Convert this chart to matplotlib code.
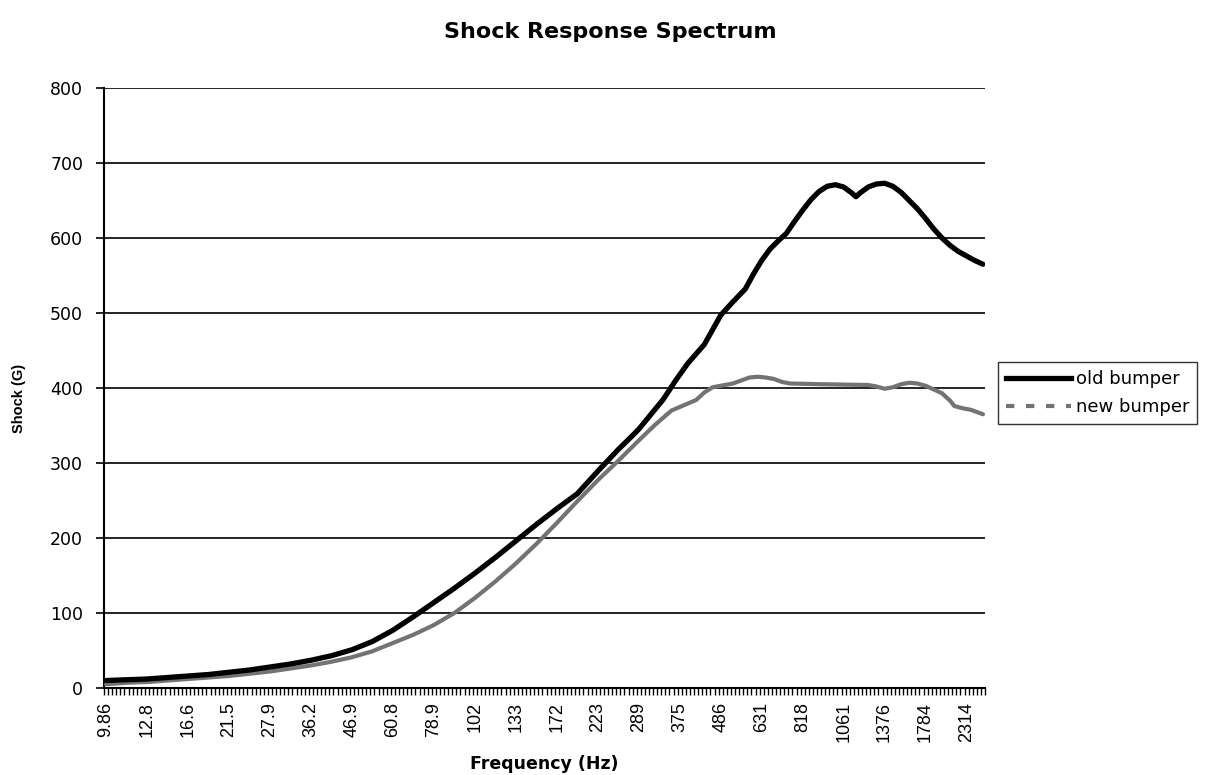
import matplotlib
matplotlib.use("Agg")
import matplotlib.pyplot as plt
from matplotlib.lines import Line2D
from matplotlib.ticker import FixedLocator, NullFormatter

plt.rcParams['font.family'] = ['Liberation Sans', 'DejaVu Sans']

# Category axis: 215 log-spaced frequency bins, labelled every 10th bin
n_categories = 215
tick_labels = ["9.86", "12.8", "16.6", "21.5", "27.9", "36.2", "46.9", "60.8",
               "78.9", "102", "133", "172", "223", "289", "375", "486", "631",
               "818", "1061", "1376", "1784", "2314"]
label_step = 10

# Old bumper: (category index, shock G)
old_idx = [0, 5, 10, 15, 20, 25, 30, 35, 40, 45, 50, 55, 60, 65, 70, 75, 80, 85,
           90, 95, 100, 105, 110, 115, 120, 125, 128, 130, 133, 136, 139, 142, 146,
           150, 153, 156, 158, 160, 162, 164, 166, 168, 170, 172, 174, 176, 178,
           180, 182, 183, 184, 186, 188, 190, 192, 194, 196, 198, 200, 202, 204,
           206, 208, 210, 212, 214]
old_bumper = [10, 11, 12, 14, 16, 18, 21, 24, 28, 32, 37, 43, 51, 62, 77, 95, 114,
              133, 153, 174, 196, 218, 239, 259, 289, 318, 334, 345, 365, 385, 410,
              433, 458, 497, 515, 532, 552, 570, 585, 596, 606, 622, 637, 651, 662,
              669, 671, 668, 660, 655, 660, 668, 672, 673, 669, 661, 650, 639, 626,
              612, 600, 590, 582, 576, 570, 565]

# New bumper: (category index, shock G)
new_idx = [0, 5, 10, 15, 20, 25, 30, 35, 40, 45, 50, 55, 60, 65, 70, 75, 80, 85,
           90, 95, 100, 105, 110, 115, 120, 125, 130, 134, 138, 141, 144, 146, 148,
           151, 153, 155, 157, 159, 161, 163, 165, 167, 175, 186, 188, 190, 192,
           194, 196, 198, 200, 202, 204, 206, 207, 209, 211, 214]
new_bumper = [5, 7, 8, 10, 12, 14, 16, 19, 22, 26, 30, 35, 41, 49, 60, 71, 84,
              100, 120, 142, 166, 192, 220, 249, 277, 303, 330, 351, 370, 377, 384,
              394, 401, 404, 406, 410, 414, 415, 414, 412, 408, 406, 405, 404, 402,
              399, 401, 405, 407, 406, 403, 398, 393, 383, 376, 373, 371, 365]

fig = plt.figure(figsize=(12.07, 7.75), dpi=100)
ax = fig.add_axes([104/1207, 1-688/775, (985-104)/1207, (688-88)/775])

ax.plot(new_idx, new_bumper, color='#737373', lw=3.0, solid_joinstyle='round',
        solid_capstyle='round', zorder=3)
ax.plot(old_idx, old_bumper, color='#000000', lw=3.8, solid_joinstyle='round',
        solid_capstyle='round', zorder=4)

ax.set_xlim(-0.5, n_categories - 0.5)
ax.set_ylim(0, 800)
ax.set_yticks(range(0, 801, 100))
ax.yaxis.grid(True, color='black', lw=1.2)
ax.set_axisbelow(True)

major = [i * label_step for i in range(len(tick_labels))]
ax.set_xticks(major)
ax.set_xticklabels(tick_labels, rotation=90, fontsize=13)
ax.tick_params(axis='x', which='major', length=0, pad=10)
ax.xaxis.set_minor_locator(FixedLocator([i - 0.5 for i in range(n_categories + 1)]))
ax.xaxis.set_minor_formatter(NullFormatter())
ax.tick_params(axis='x', which='minor', length=5, width=1.0, direction='out')
ax.tick_params(axis='y', length=6, width=1.2, pad=9)
for lab in ax.get_yticklabels():
    lab.set_fontfamily('DejaVu Sans')
    lab.set_fontsize(12.5)

for s in ['top', 'right']:
    ax.spines[s].set_visible(False)
for s in ['left', 'bottom']:
    ax.spines[s].set_linewidth(1.5)

fig.text(610/1207, 1-32/775, "Shock Response Spectrum", ha='center', va='center',
         fontsize=16, fontweight='bold', family='DejaVu Sans')
fig.text(544/1207, 1-764/775, "Frequency (Hz)", ha='center', va='center',
         fontsize=12.5, fontweight='bold', family='DejaVu Sans')
fig.text(19/1207, 1-398/775, "Shock (G)", ha='center', va='center',
         fontsize=10.5, fontweight='bold', rotation=90)

handles = [Line2D([], [], color='black', lw=3.8),
           Line2D([], [], color='#737373', lw=3.0, ls=(0, (2, 2.8)))]
leg = fig.legend(handles, ["old bumper", "new bumper"], loc='upper left',
                 bbox_to_anchor=(998/1207, 1-362/775), frameon=True,
                 prop={'family': 'DejaVu Sans', 'size': 13},
                 fancybox=False, handlelength=3.6, handletextpad=0.25,
                 borderpad=0.45, labelspacing=0.55, borderaxespad=0)
leg.get_frame().set_edgecolor('black')
leg.get_frame().set_linewidth(1.0)

fig.savefig("out.png", dpi=100)
